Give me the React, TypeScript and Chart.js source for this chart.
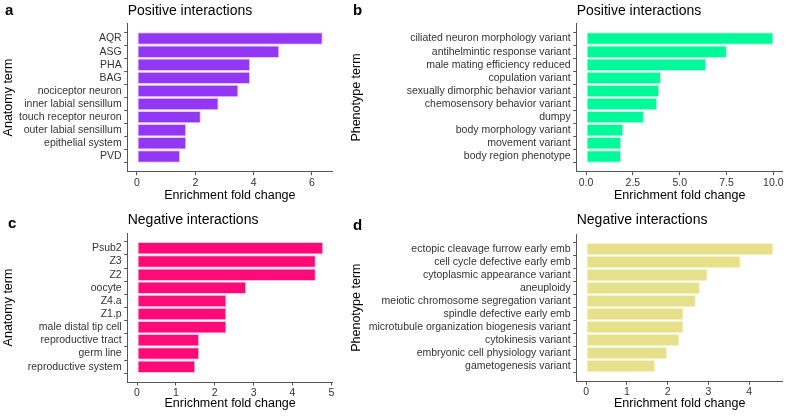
import React, { useEffect, useRef } from 'react';
import { Chart, registerables } from 'chart.js';

Chart.register(...registerables);

const FONT = "'Liberation Sans', Arial, Helvetica, sans-serif";

// Panel a
const anatomyPosTerms = ['AQR', 'ASG', 'PHA', 'BAG', 'nociceptor neuron', 'inner labial sensillum', 'touch receptor neuron', 'outer labial sensillum', 'epithelial system', 'PVD'];
const anatomyPosValues = [6.37, 4.88, 3.88, 3.88, 3.48, 2.8, 2.19, 1.69, 1.69, 1.48];
const anatomyPosTicks = [0, 2, 4, 6];

// Panel b
const phenoPosTerms = ['ciliated neuron morphology variant', 'antihelmintic response variant', 'male mating efficiency reduced', 'copulation variant', 'sexually dimorphic behavior variant', 'chemosensory behavior variant', 'dumpy', 'body morphology variant', 'movement variant', 'body region phenotype'];
const phenoPosValues = [10.0, 7.52, 6.41, 4.0, 3.91, 3.8, 3.09, 1.99, 1.88, 1.88];
const phenoPosTicks = [0, 2.5, 5, 7.5, 10];

// Panel c
const anatomyNegTerms = ['Psub2', 'Z3', 'Z2', 'oocyte', 'Z4.a', 'Z1.p', 'male distal tip cell', 'reproductive tract', 'germ line', 'reproductive system'];
const anatomyNegValues = [4.79, 4.6, 4.6, 2.81, 2.3, 2.3, 2.3, 1.6, 1.6, 1.5];
const anatomyNegTicks = [0, 1, 2, 3, 4, 5];

// Panel d
const phenoNegTerms = ['ectopic cleavage furrow early emb', 'cell cycle defective early emb', 'cytoplasmic appearance variant', 'aneuploidy', 'meiotic chromosome segregation variant', 'spindle defective early emb', 'microtubule organization biogenesis variant', 'cytokinesis variant', 'embryonic cell physiology variant', 'gametogenesis variant'];
const phenoNegValues = [4.59, 3.79, 2.98, 2.79, 2.69, 2.39, 2.39, 2.29, 1.99, 1.69];
const phenoNegTicks = [0, 1, 2, 3, 4];

type PanelProps = {
  left: number; top: number; width: number; height: number;
  area: { l: number; t: number; r: number; b: number };
  title: string; titleTop: number; titleBottom: number;
  xTitlePad: number; yTitlePad: number; yTitle: string;
  terms: string[]; values: number[]; ticks: number[]; decimals: number;
  fill: string; border: string;
};

function Panel(p: PanelProps) {
  const ref = useRef<HTMLCanvasElement | null>(null);
  useEffect(() => {
    if (!ref.current) return;
    const maxV = Math.max(...p.values);
    const axisColor = '#555555';
    const chart = new Chart(ref.current, {
      type: 'bar',
      data: {
        datasets: [{
          data: p.values.map((v, i) => ({ x: v, y: i })),
          backgroundColor: p.fill,
          borderColor: p.border,
          borderWidth: 1,
          borderSkipped: false,
          barPercentage: 0.95,
          categoryPercentage: 1,
        } as any],
      },
      options: {
        indexAxis: 'y',
        responsive: false,
        maintainAspectRatio: false,
        animation: false,
        layout: { padding: { left: 0, top: 0, right: p.width - p.area.r, bottom: 0 } },
        plugins: {
          legend: { display: false },
          tooltip: { enabled: false },
          title: {
            display: true,
            text: p.title,
            align: 'start',
            fullSize: false,
            color: '#000000',
            font: { family: FONT, size: 14, weight: 'normal' },
            padding: { top: p.titleTop, bottom: p.titleBottom },
          },
        },
        scales: {
          x: {
            type: 'linear',
            position: 'bottom',
            min: -0.05 * maxV,
            max: 1.05 * maxV,
            afterBuildTicks: (s: any) => { s.ticks = p.ticks.map((v) => ({ value: v })); },
            afterFit: (s: any) => { s.height = p.height - p.area.b; s.paddingLeft = 0; s.paddingRight = 0; },
            ticks: {
              callback: (v: any) => Number(v).toFixed(p.decimals),
              autoSkip: false,
              maxRotation: 0,
              padding: 1.5,
              color: '#333333',
              font: { family: FONT, size: 10.5 },
            },
            grid: { drawOnChartArea: false, drawTicks: true, tickLength: 3.5, tickColor: axisColor, tickWidth: 1 },
            border: { display: true, color: axisColor, width: 1 },
            title: {
              display: true,
              text: 'Enrichment fold change',
              color: '#000000',
              font: { family: FONT, size: 12.5 },
              padding: { top: 0, bottom: p.xTitlePad },
            },
          },
          y: {
            type: 'linear',
            position: 'left',
            reverse: true,
            min: -0.6,
            max: p.terms.length - 0.4,
            afterBuildTicks: (s: any) => { s.ticks = p.terms.map((_, i) => ({ value: i })); },
            afterFit: (s: any) => { s.width = p.area.l; s.paddingTop = 0; s.paddingBottom = 0; },
            ticks: {
              callback: (v: any) => p.terms[Number(v)],
              autoSkip: false,
              padding: 2.5,
              color: '#333333',
              font: { family: FONT, size: 10.5 },
            },
            grid: { drawOnChartArea: false, drawTicks: true, tickLength: 3.5, tickColor: axisColor, tickWidth: 1 },
            border: { display: true, color: axisColor, width: 1 },
            title: {
              display: true,
              text: p.yTitle,
              color: '#000000',
              font: { family: FONT, size: 12.5 },
              padding: { top: p.yTitlePad, bottom: 0 },
            },
          },
        },
      } as any,
    });
    return () => chart.destroy();
  }, []);
  return (
    <canvas
      ref={ref}
      width={p.width}
      height={p.height}
      style={{ position: 'absolute', left: p.left, top: p.top, width: p.width, height: p.height }}
    />
  );
}

const letterStyle: React.CSSProperties = {
  position: 'absolute',
  fontFamily: FONT,
  fontWeight: 'bold',
  fontSize: 15,
  lineHeight: '15px',
  color: '#000',
};

export default function App() {
  return (
    <div style={{ position: 'absolute', left: 0, top: 0, width: 790, height: 416, background: '#ffffff', overflow: 'hidden' }}>
      <Panel
        left={0} top={0} width={345} height={208}
        area={{ l: 127.7, t: 23.3, r: 332, b: 171.7 }}
        title="Positive interactions" titleTop={2.3} titleBottom={4.2}
        xTitlePad={5.3} yTitlePad={0.8} yTitle="Anatomy term"
        terms={anatomyPosTerms} values={anatomyPosValues} ticks={anatomyPosTicks} decimals={0}
        fill="#9238F5" border="#E9C4F8"
      />
      <Panel
        left={345} top={0} width={445} height={208}
        area={{ l: 231.7, t: 23.3, r: 437.7, b: 171.7 }}
        title="Positive interactions" titleTop={2.3} titleBottom={4.2}
        xTitlePad={5.3} yTitlePad={4.2} yTitle="Phenotype term"
        terms={phenoPosTerms} values={phenoPosValues} ticks={phenoPosTicks} decimals={1}
        fill="#00FA9A" border="#B8F8DC"
      />
      <Panel
        left={0} top={208} width={345} height={208}
        area={{ l: 127.7, t: 25, r: 332.5, b: 174 }}
        title="Negative interactions" titleTop={4} titleBottom={4.2}
        xTitlePad={4.8} yTitlePad={0.8} yTitle="Anatomy term"
        terms={anatomyNegTerms} values={anatomyNegValues} ticks={anatomyNegTicks} decimals={0}
        fill="#FF0A78" border="#FAC3DA"
      />
      <Panel
        left={345} top={208} width={445} height={208}
        area={{ l: 231.7, t: 26, r: 437.7, b: 173.3 }}
        title="Negative interactions" titleTop={4} titleBottom={5.2}
        xTitlePad={4.8} yTitlePad={4.2} yTitle="Phenotype term"
        terms={phenoNegTerms} values={phenoNegValues} ticks={phenoNegTicks} decimals={0}
        fill="#E6E08A" border="#F6F3CC"
      />
      <div style={{ ...letterStyle, left: 5, top: 2.3 }}>a</div>
      <div style={{ ...letterStyle, left: 353, top: 2.3 }}>b</div>
      <div style={{ ...letterStyle, left: 8, top: 215.3 }}>c</div>
      <div style={{ ...letterStyle, left: 353, top: 217 }}>d</div>
    </div>
  );
}
